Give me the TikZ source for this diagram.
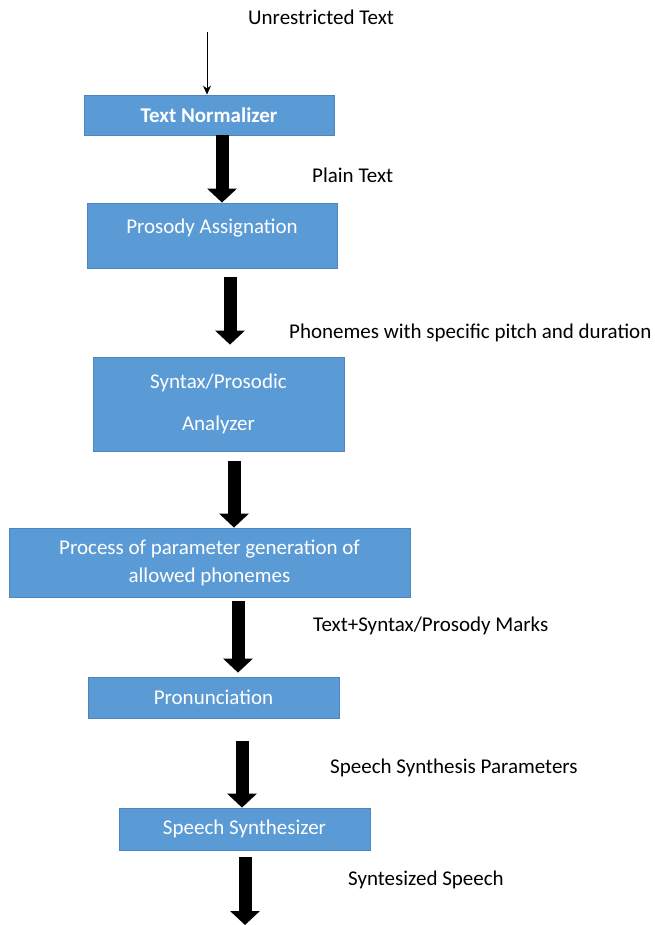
\documentclass[tikz,border=0pt]{standalone}
\usepackage{fontspec}
\setmainfont{Carlito}
\usetikzlibrary{arrows.meta}
\definecolor{boxfill}{HTML}{5B9BD5}
\definecolor{boxline}{HTML}{4A86C0}
\begin{document}
\begin{tikzpicture}[x=1pt,y=-1pt,
  stagebox/.style={draw=boxline, line width=0.8pt, fill=boxfill, text=white, inner sep=0pt, font=\fontsize{21}{25}\selectfont, align=center},
  lbl/.style={anchor=west, inner sep=0pt, font=\fontsize{21}{25}\selectfont},
  bigarrow/.style={line width=13pt, -{Triangle[width=29pt,length=14pt]}},
  thinarrow/.style={line width=0.8pt, -{Stealth[width=8pt,length=9pt]}}]
\useasboundingbox (0,0) rectangle (654,925);
% boxes
\node[stagebox, minimum width=250pt, minimum height=40pt, font=\fontsize{21}{25}\selectfont\bfseries] (n1) at (209,115) {Text Normalizer};
\node[stagebox, minimum width=250pt, minimum height=65pt, text depth=18pt] (n2) at (212,235.5) {Prosody Assignation};
\node[stagebox, minimum width=251pt, minimum height=94pt] (n3) at (218.5,404) {Syntax/Prosodic\\[17pt]Analyzer};
\node[stagebox, minimum width=401pt, minimum height=69pt] (n4) at (209.5,562.5) {Process of parameter generation of\\[3pt]allowed phonemes};
\node[stagebox, minimum width=251pt, minimum height=41pt] (n5) at (213.5,697.5) {Pronunciation};
\node[stagebox, minimum width=251pt, minimum height=42pt] (n6) at (244.5,829) {Speech Synthesizer};
% labels
\node[lbl] (l0) at (248,17) {Unrestricted Text};
\node[lbl] (l1) at (312,175) {Plain Text};
\node[lbl] (l2) at (289,333) {Phonemes with specific pitch and duration};
\node[lbl] (l3) at (313,626) {Text+Syntax/Prosody Marks};
\node[lbl] (l4) at (330,768) {Speech Synthesis Parameters};
\node[lbl] (l5) at (348,880) {Syntesized Speech};
% arrow positions
\coordinate (in) at (207,32);
\coordinate (a1) at (222,0);
\coordinate (a2) at (230,0);
\coordinate (a3) at (234,0);
\coordinate (a4) at (238,0);
\coordinate (a5) at (242,0);
\coordinate (a6) at (245,0);
\coordinate (out) at (245,925);
% connectors
\draw[thinarrow] (in) -- (n1.north -| in);
\draw[bigarrow] (n1.south -| a1) -- (n2.north -| a1);
\draw[bigarrow, shorten <=9pt, shorten >=12pt] (n2.south -| a2) -- (n3.north -| a2);
\draw[bigarrow, shorten <=10pt] (n3.south -| a3) -- (n4.north -| a3);
\draw[bigarrow, shorten <=4pt, shorten >=4pt] (n4.south -| a4) -- (n5.north -| a4);
\draw[bigarrow, shorten <=23pt] (n5.south -| a5) -- (n6.north -| a5);
\draw[bigarrow, shorten <=7pt] (n6.south -| a6) -- (out);
\end{tikzpicture}
\end{document}
